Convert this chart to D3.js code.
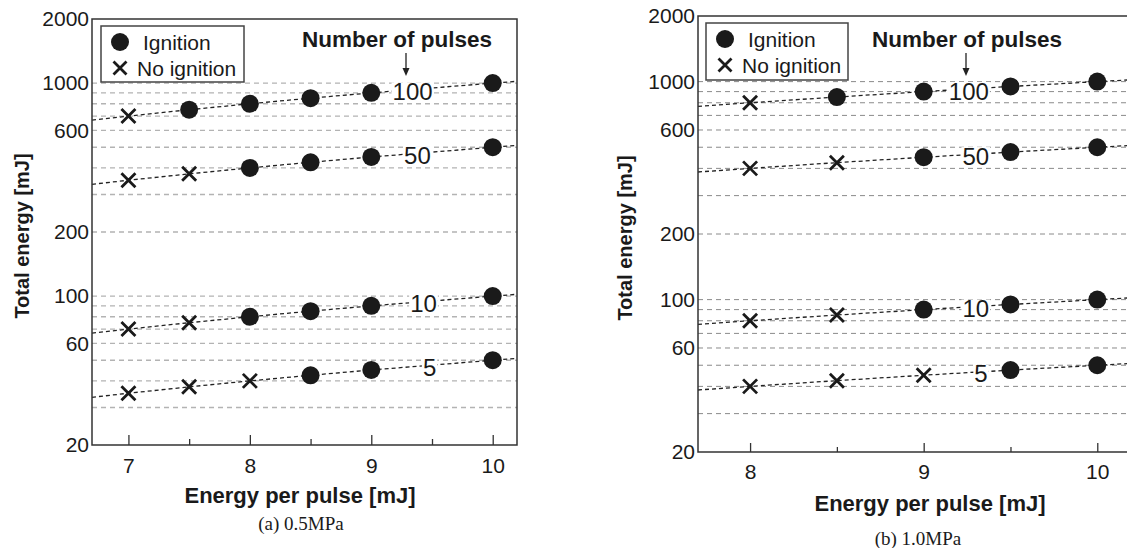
<!DOCTYPE html>
<html>
<head>
<meta charset="utf-8">
<script src="https://cdn.jsdelivr.net/npm/d3@7"></script>
<style>
  body { margin: 0; background: #fff; }
  svg { display: block; font-family: "Liberation Sans", Arial, sans-serif; }
</style>
</head>
<body>
<script>
// chart data
// number of pulses per curve (top to bottom)
var pulses = [100, 50, 10, 5];

// (a) 0.5MPa
var energyA = [7, 7.5, 8, 8.5, 9, 10];
var totalsA = [
  [700, 750, 800, 850, 900, 1000],
  [350, 375, 400, 425, 450, 500],
  [70, 75, 80, 85, 90, 100],
  [35, 37.5, 40, 42.5, 45, 50]
];
// 1 = ignition (dot), 0 = no ignition (cross)
var ignitionA = [
  [0, 1, 1, 1, 1, 1],
  [0, 0, 1, 1, 1, 1],
  [0, 0, 1, 1, 1, 1],
  [0, 0, 0, 1, 1, 1]
];
var edgeA = [6.7, 10.2];
var edgeTotalsA = [[670, 1020], [335, 510], [67, 102], [33.5, 51]];
var labelPosA = [9.34, 9.38, 9.43, 9.48];

// (b) 1.0MPa
var energyB = [8, 8.5, 9, 9.5, 10];
var totalsB = [
  [800, 850, 900, 950, 1000],
  [400, 425, 450, 475, 500],
  [80, 85, 90, 95, 100],
  [40, 42.5, 45, 47.5, 50]
];
var ignitionB = [
  [0, 1, 1, 1, 1],
  [0, 0, 1, 1, 1],
  [0, 0, 1, 1, 1],
  [0, 0, 0, 1, 1]
];
var edgeB = [7.7, 10.2];
var edgeTotalsB = [[770, 1020], [385, 510], [77, 102], [38.5, 51]];
var labelPosB = [9.26, 9.3, 9.3, 9.33];

// axis ticks
var yTicks = [20, 60, 100, 200, 600, 1000, 2000];
var yGrid = [30, 40, 50, 60, 70, 80, 90, 100, 200, 300, 400, 500, 600, 700, 800, 900, 1000];
var xMajorA = [7, 8, 9, 10];
var xMinorA = [7.5, 8.5, 9.5];
var xMajorB = [8, 9, 10];
var xMinorB = [8.5, 9.5];

var svg = d3.select("body").append("svg")
  .attr("width", 1127)
  .attr("height", 548);

function drawPanel(p) {

  var g = svg.append("g");

  var x = d3.scaleLinear().domain(p.edge).range([p.left, p.right]);
  var y = d3.scaleLog().domain([20, 2000]).range([p.bottom, p.top]);

  // dashed grid lines
  g.selectAll("line.grid").data(yGrid).enter()
    .append("line")
    .attr("class", "grid")
    .attr("x1", p.left).attr("x2", p.right)
    .attr("y1", function(d) { return y(d); })
    .attr("y2", function(d) { return y(d); })
    .style("stroke", p.gridColor)
    .style("stroke-width", p.gridWidth)
    .style("stroke-dasharray", "5,4");

  // y tick labels, no tick marks
  var yAxis = g.append("g")
    .attr("transform", "translate(" + p.left + ",0)")
    .call(d3.axisLeft(y).tickValues(yTicks).tickSize(0).tickPadding(3).tickFormat(d3.format("d")));
  yAxis.select(".domain").remove();
  yAxis.selectAll("text")
    .style("font-size", "21px")
    .style("fill", "#1a1a1a")
    .style("font-family", "Liberation Sans, Arial, sans-serif");

  // x ticks pointing inward
  var xAxis = g.append("g")
    .attr("transform", "translate(0," + p.bottom + ")")
    .call(d3.axisBottom(x).tickValues(p.major).tickSizeInner(-p.majorLen).tickSizeOuter(0)
      .tickPadding(p.majorLen + 3).tickFormat(d3.format("d")));
  xAxis.select(".domain").remove();
  xAxis.selectAll("line").style("stroke", "#333").style("stroke-width", 1.3);
  xAxis.selectAll("text")
    .style("font-size", "21px")
    .style("fill", "#1a1a1a")
    .style("font-family", "Liberation Sans, Arial, sans-serif");

  var xMinor = g.append("g")
    .attr("transform", "translate(0," + p.bottom + ")")
    .call(d3.axisBottom(x).tickValues(p.minor).tickSizeInner(-p.minorLen).tickSizeOuter(0).tickFormat(""));
  xMinor.select(".domain").remove();
  xMinor.selectAll("line").style("stroke", "#333").style("stroke-width", 1.3);

  // trend lines for each pulse count
  var line = d3.line()
    .x(function(d) { return x(d[0]); })
    .y(function(d) { return y(d[1]); });

  pulses.forEach(function(n, i) {
    var pts = [[p.edge[0], p.edgeTotals[i][0]]];
    p.energy.forEach(function(e, j) { pts.push([e, p.totals[i][j]]); });
    pts.push([p.edge[1], p.edgeTotals[i][1]]);

    g.append("path")
      .datum(pts)
      .attr("d", line)
      .style("fill", "none")
      .style("stroke", "#222")
      .style("stroke-width", 1.3)
      .style("stroke-dasharray", "4,3");

    // curve label on a white patch
    var lx = x(p.labelPos[i]);
    var ly = y(p.labelPos[i] * n) + 2;
    var t = g.append("text")
      .attr("x", lx)
      .attr("y", ly)
      .attr("dy", "0.36em")
      .style("text-anchor", "middle")
      .style("font-size", "24px")
      .style("fill", "#1a1a1a")
      .text(n);
    var bb = t.node().getBBox();
    g.insert("rect", function() { return t.node(); })
      .attr("x", bb.x - 1)
      .attr("y", ly - 9)
      .attr("width", bb.width + 2)
      .attr("height", 18)
      .style("fill", "#fff");
  });

  // markers
  pulses.forEach(function(n, i) {
    p.energy.forEach(function(e, j) {
      var cx = x(e), cy = y(p.totals[i][j]);
      if (p.ignition[i][j] === 1) {
        g.append("circle")
          .attr("cx", cx).attr("cy", cy).attr("r", 9)
          .style("fill", "#1a1a1a");
      } else {
        drawCross(g, cx, cy, 7);
      }
    });
  });

  // frame
  g.append("path")
    .attr("d", "M" + p.left + "," + p.top + "H" + p.right + "V" + p.bottom + "H" + p.left + "Z")
    .style("fill", "none")
    .style("stroke", "#333")
    .style("stroke-width", 1.5);

  // legend
  var lg = g.append("g");
  lg.append("rect")
    .attr("x", p.legend[0]).attr("y", p.legend[1])
    .attr("width", p.legend[2]).attr("height", p.legend[3])
    .style("fill", "#fff")
    .style("stroke", "#444")
    .style("stroke-width", 1.5);
  lg.append("circle")
    .attr("cx", p.legend[0] + 19).attr("cy", p.legend[1] + 16).attr("r", 9)
    .style("fill", "#1a1a1a");
  lg.append("text")
    .attr("x", p.legend[0] + 42).attr("y", p.legend[1] + 16).attr("dy", "0.36em")
    .style("font-size", "21px").style("fill", "#1a1a1a")
    .text("Ignition");
  drawCross(lg, p.legend[0] + 19, p.legend[1] + 42, 6.5);
  lg.append("text")
    .attr("x", p.legend[0] + 36).attr("y", p.legend[1] + 42).attr("dy", "0.36em")
    .style("font-size", "21px").style("fill", "#1a1a1a")
    .text("No ignition");

  // "Number of pulses" note with arrow
  g.append("text")
    .attr("x", p.noteX).attr("y", 47)
    .style("text-anchor", "middle")
    .style("font-size", "22.5px")
    .style("font-weight", "bold")
    .style("fill", "#1a1a1a")
    .text("Number of pulses");
  g.append("line")
    .attr("x1", p.arrowX).attr("x2", p.arrowX)
    .attr("y1", 53).attr("y2", 70)
    .style("stroke", "#222").style("stroke-width", 1.3);
  g.append("path")
    .attr("d", "M" + (p.arrowX - 3.5) + ",68L" + (p.arrowX + 3.5) + ",68L" + p.arrowX + ",76Z")
    .style("fill", "#222");

  // axis titles
  g.append("text")
    .attr("transform", "translate(" + p.yTitleX + "," + ((p.top + p.bottom) / 2 + 4) + ") rotate(-90)")
    .attr("dy", "0.36em")
    .style("text-anchor", "middle")
    .style("font-size", "20px")
    .style("font-weight", "bold")
    .style("fill", "#1a1a1a")
    .text("Total energy [mJ]");

  g.append("text")
    .attr("x", p.xTitleX).attr("y", p.xTitleY)
    .style("text-anchor", "middle")
    .style("font-size", "22px")
    .style("font-weight", "bold")
    .style("fill", "#1a1a1a")
    .text("Energy per pulse [mJ]");

  // caption
  g.append("text")
    .attr("x", p.capX).attr("y", p.capY)
    .style("text-anchor", "middle")
    .style("font-family", "Liberation Serif, Times New Roman, serif")
    .style("font-size", "19px")
    .style("fill", "#1a1a1a")
    .text(p.caption);
}

function drawCross(g, cx, cy, s) {
  g.append("path")
    .attr("d", "M" + (cx - s) + "," + (cy - s) + "L" + (cx + s) + "," + (cy + s) +
               "M" + (cx - s) + "," + (cy + s) + "L" + (cx + s) + "," + (cy - s))
    .style("stroke", "#1a1a1a")
    .style("stroke-width", 2.8)
    .style("fill", "none");
}

drawPanel({
  left: 92, right: 517, top: 19, bottom: 445,
  edge: edgeA, energy: energyA, totals: totalsA, ignition: ignitionA,
  edgeTotals: edgeTotalsA, labelPos: labelPosA,
  major: xMajorA, minor: xMinorA, majorLen: 10, minorLen: 6,
  gridColor: "#b3b3b3", gridWidth: 1.4,
  legend: [101, 26, 143, 56],
  noteX: 397, arrowX: 406,
  yTitleX: 22, xTitleX: 300, xTitleY: 503,
  caption: "(a) 0.5MPa", capX: 301, capY: 530
});

drawPanel({
  left: 698, right: 1132, top: 16, bottom: 452,
  edge: edgeB, energy: energyB, totals: totalsB, ignition: ignitionB,
  edgeTotals: edgeTotalsB, labelPos: labelPosB,
  major: xMajorB, minor: xMinorB, majorLen: 9, minorLen: 5,
  gridColor: "#8a8a8a", gridWidth: 1,
  legend: [706, 23, 142, 57],
  noteX: 967, arrowX: 966,
  yTitleX: 625, xTitleX: 930, xTitleY: 511,
  caption: "(b) 1.0MPa", capX: 918, capY: 545
});
</script>
</body>
</html>
